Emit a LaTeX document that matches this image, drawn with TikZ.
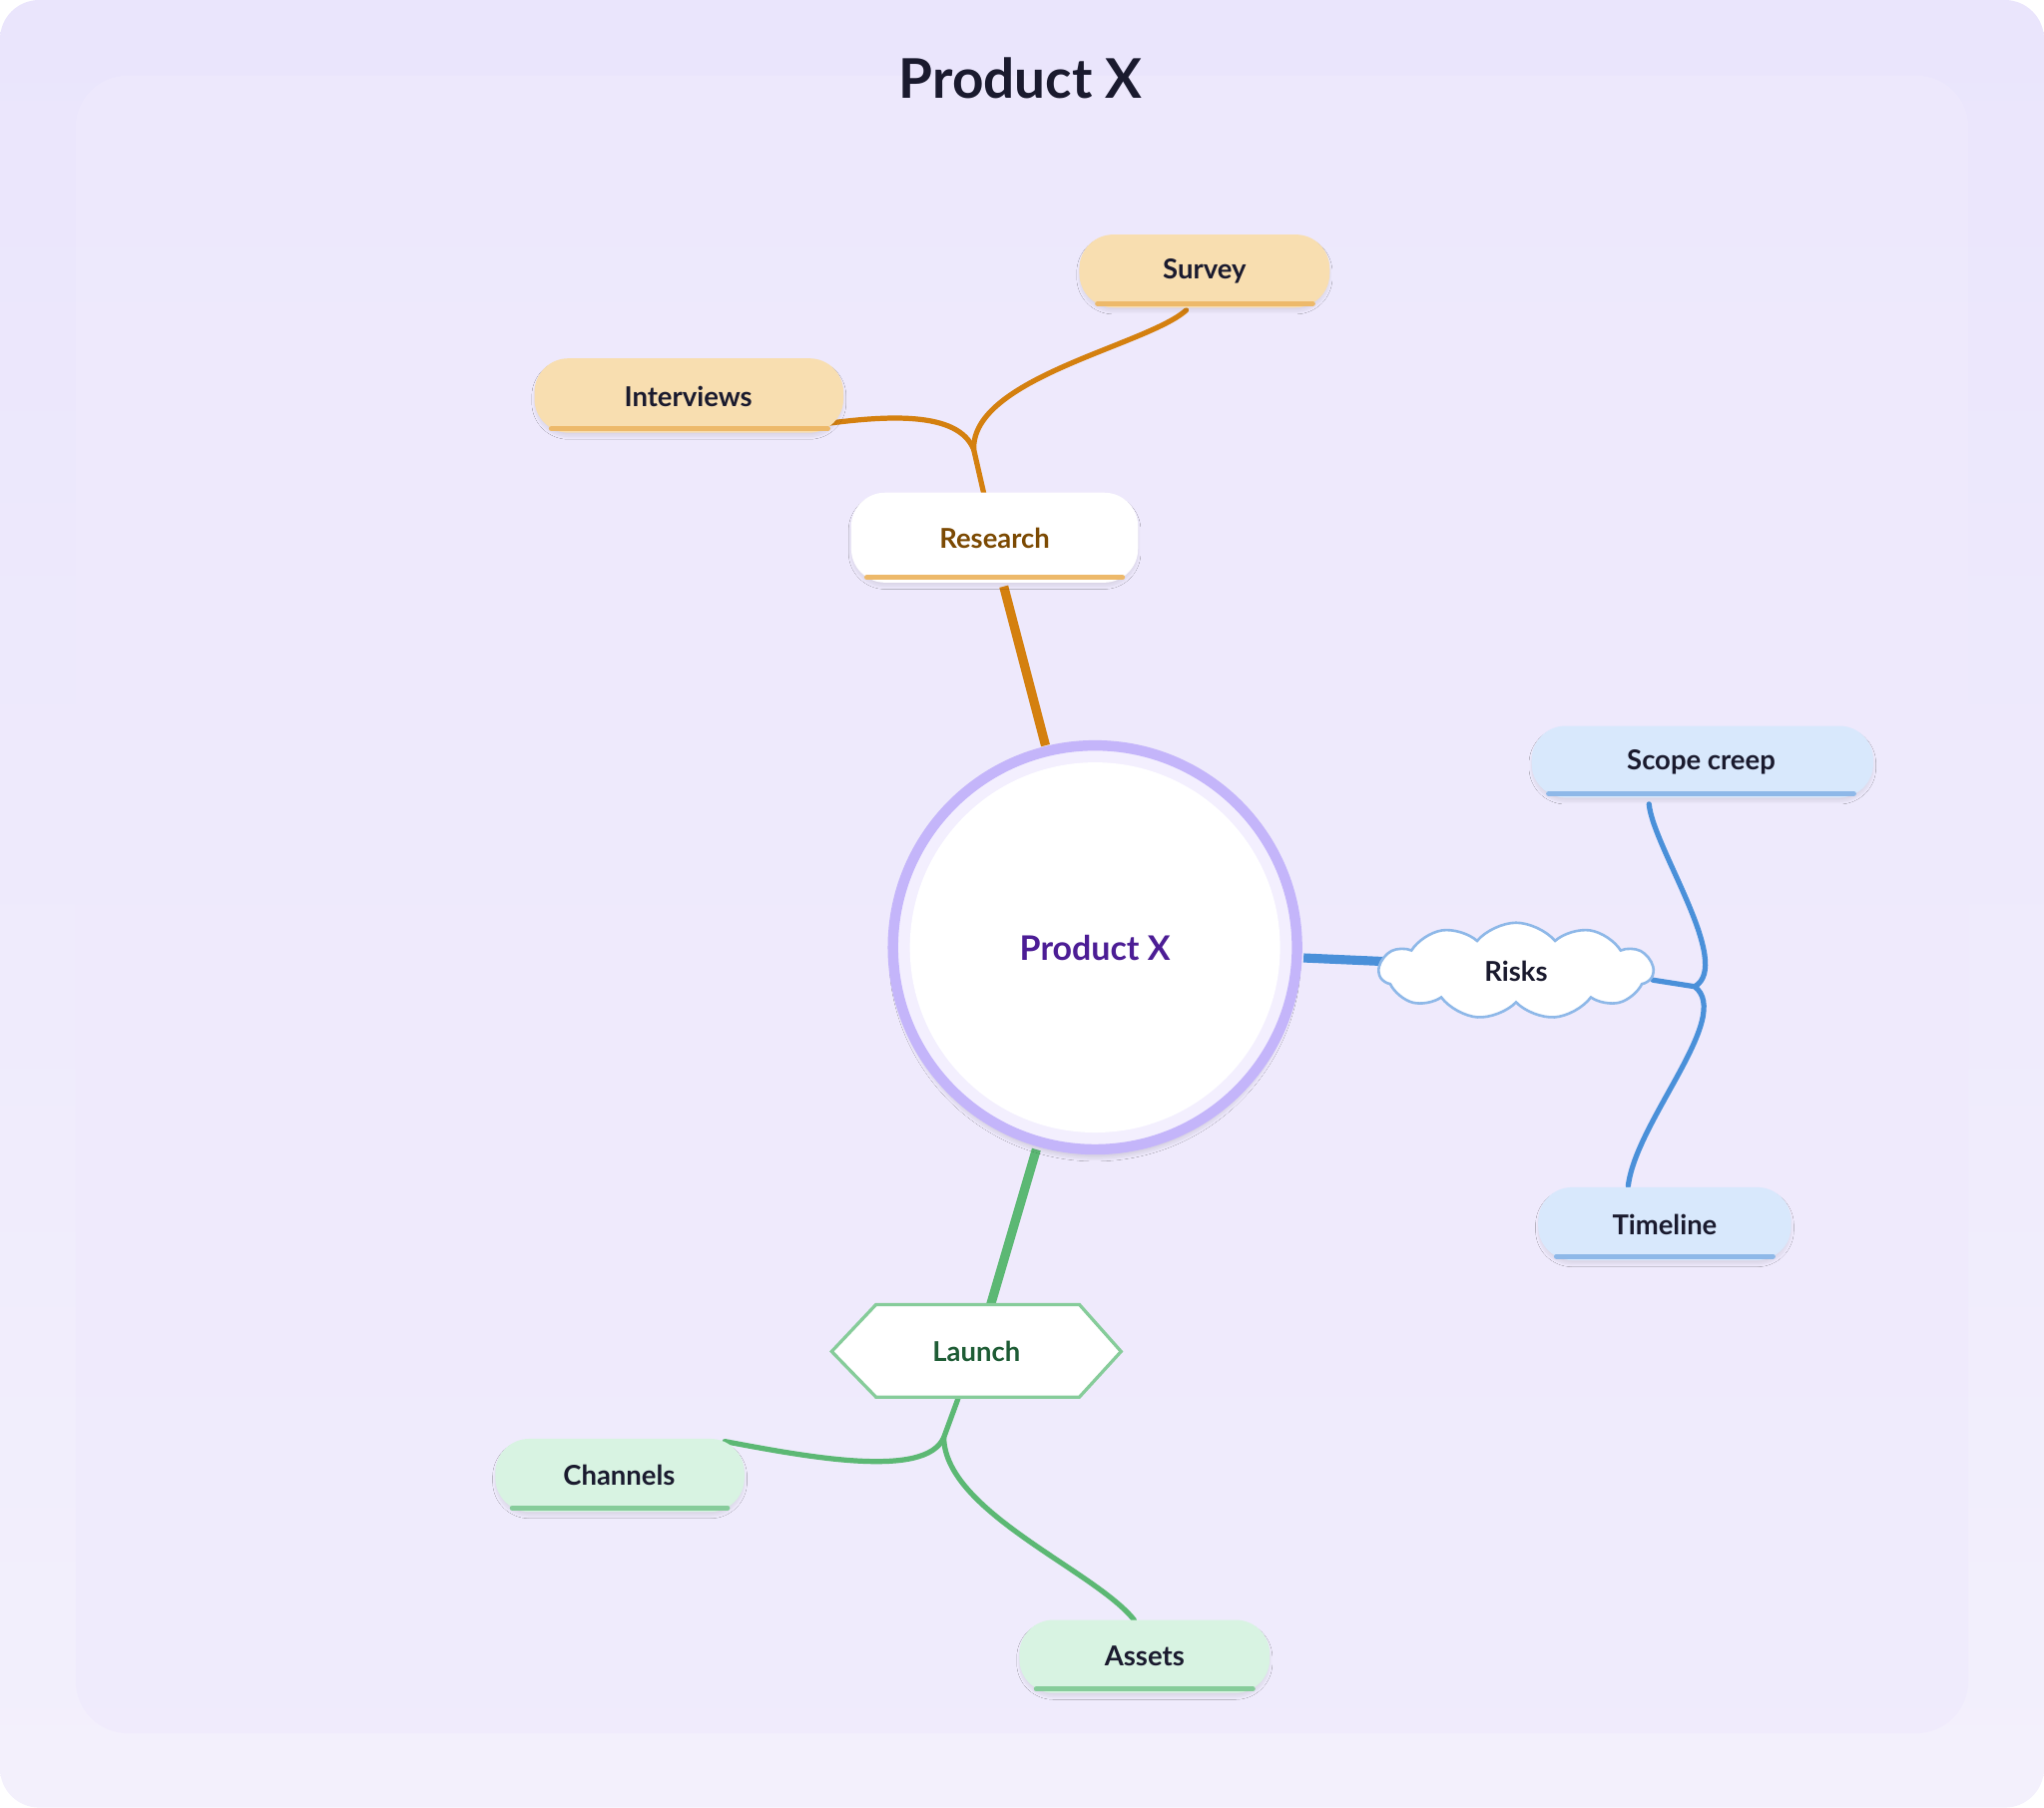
\documentclass[tikz,border=0pt]{standalone}
\usepackage{fontspec}
\setmainfont{Lato}[BoldFont={* Bold}]
\usetikzlibrary{shapes.symbols,shadows.blur}
\definecolor{bgA}{HTML}{EAE5FC}\definecolor{bgB}{HTML}{F3F0FC}
\definecolor{panel}{HTML}{EFEAFD}
\definecolor{org}{HTML}{D4800F}\definecolor{orgL}{HTML}{EDB96A}\definecolor{orgF}{HTML}{F8DEB0}
\definecolor{blu}{HTML}{4A90D9}\definecolor{bluL}{HTML}{8EB8E8}\definecolor{bluF}{HTML}{D8E8FC}
\definecolor{grn}{HTML}{5CB874}\definecolor{grnL}{HTML}{86CC9A}\definecolor{grnF}{HTML}{D8F3E2}
\definecolor{ink}{HTML}{1A1A2E}
\tikzset{
 lbl/.style={font=\fontsize{21}{25}\selectfont\bfseries, text=ink},
 pill/.style={draw=none, rounded corners=26pt, blur shadow={shadow blur steps=8,shadow opacity=8,shadow xshift=0pt,shadow yshift=-3pt}},
 uline/.style={line width=4pt, line cap=round},
 br/.style={line width=4pt, line cap=round},
}
\begin{document}
\begin{tikzpicture}[x=1pt,y=-1pt]
\useasboundingbox (0,0) rectangle (1568,1387);
\shade[top color=bgA,bottom color=bgB,rounded corners=30pt] (0,0) rectangle (1568,1387);
\fill[panel,rounded corners=40pt,opacity=.7] (58,58) rectangle (1510,1330);
\node[font=\fontsize{42}{50}\selectfont\bfseries,text=ink] (title) at (783,60) {Product X};
% connectors
\draw[org,line width=7pt] (802,572) -- (770,450);
\draw[blu,line width=7pt] (1000,735) -- (1068,738);
\draw[grn,line width=7pt] (795,882) -- (760,1001);
\draw[org,br] (755,380) -- (747,345) .. controls (745,290) and (880,265) .. (910,238);
\draw[org,br] (747,345) .. controls (735,315) and (680,318) .. (620,327);
\draw[blu,br] (1268,752) -- (1300,757) .. controls (1330,740) and (1268,650) .. (1265,617);
\draw[blu,br] (1300,757) .. controls (1330,780) and (1255,860) .. (1249,910);
\draw[grn,br] (735,1073) -- (724,1103) .. controls (710,1135) and (620,1118) .. (556,1106);
\draw[grn,br] (724,1103) .. controls (725,1160) and (840,1205) .. (870,1243);
% center
\fill[white,blur shadow={shadow blur steps=12,shadow opacity=10,shadow xshift=0pt,shadow yshift=-6pt}] (840,727) circle (156);
\draw[draw={rgb,255:red,196;green,181;blue,250},line width=8pt,fill={rgb,255:red,243;green,239;blue,254}] (840,727) circle (155);
\fill[white] (840,727) circle (142);
\node[font=\fontsize{26}{31}\selectfont\bfseries,text={rgb,255:red,76;green,29;blue,149}] (center) at (840,727) {Product X};
% research
\filldraw[white,pill] (653,378) rectangle (873,447);
\draw[orgL,uline] (665,443) -- (861,443);
\node[lbl,text={rgb,255:red,124;green,74;blue,3}] (research) at (763,413) {Research};
\filldraw[orgF,pill] (828,180) rectangle (1020,236);
\draw[orgL,uline] (842,233) -- (1007,233);
\node[lbl] (survey) at (924,208) {Survey};
\filldraw[orgF,pill] (410,275) rectangle (647,332);
\draw[orgL,uline] (423,329) -- (635,329);
\node[lbl] (interviews) at (528,304) {Interviews};
% risks
\node[cloud,cloud puffs=11,cloud puff arc=100,aspect=2.8,minimum width=210pt,minimum height=74pt,draw=bluL,line width=2pt,fill=white,lbl] (risks) at (1163,745) {Risks};
\filldraw[bluF,pill] (1175,557) rectangle (1437,612);
\draw[bluL,uline] (1188,609) -- (1422,609);
\node[lbl] (scope) at (1305,585) {Scope creep};
\filldraw[bluF,pill] (1180,911) rectangle (1374,967);
\draw[bluL,uline] (1194,964) -- (1360,964);
\node[lbl] (timeline) at (1277,940) {Timeline};
% launch
\filldraw[fill=white,draw=grnL,line width=2.5pt] (638,1037) -- (672,1001) -- (828,1001) -- (860,1037) -- (828,1072) -- (672,1072) -- cycle;
\node[lbl,text={rgb,255:red,30;green,92;blue,53}] (launch) at (749,1037) {Launch};
\filldraw[grnF,pill] (380,1104) rectangle (571,1160);
\draw[grnL,uline] (393,1157) -- (558,1157);
\node[lbl] (channels) at (475,1132) {Channels};
\filldraw[grnF,pill] (782,1243) rectangle (974,1299);
\draw[grnL,uline] (795,1296) -- (961,1296);
\node[lbl] (assets) at (878,1271) {Assets};
\end{tikzpicture}
\end{document}
